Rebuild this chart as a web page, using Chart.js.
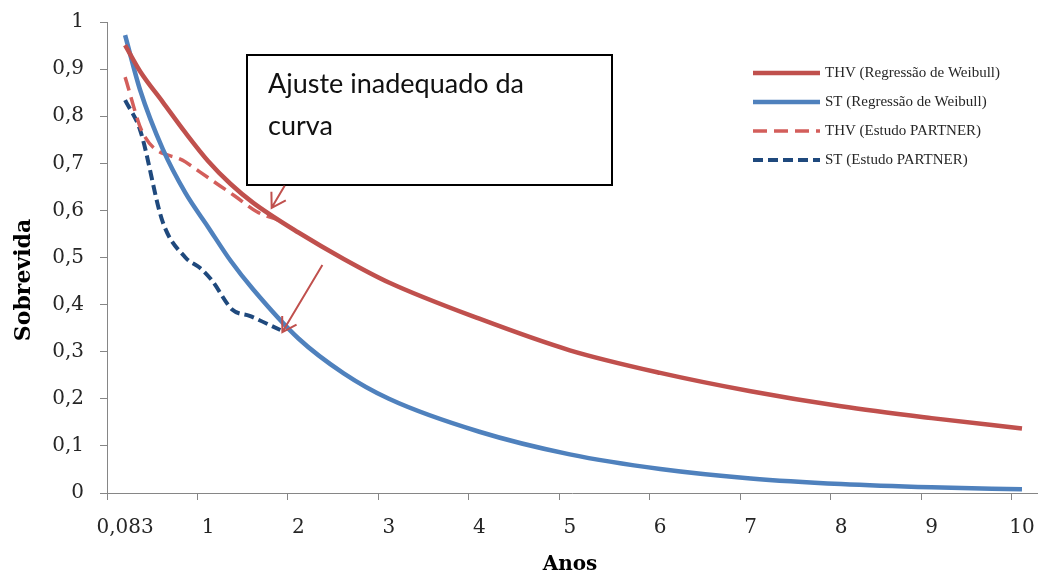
<!DOCTYPE html>
<html>
<head>
<meta charset="utf-8">
<script src="https://cdn.jsdelivr.net/npm/chart.js@4.4.1/dist/chart.umd.min.js"></script>
<style>
  html, body { margin: 0; padding: 0; background: #fff; }
  #wrap { width: 1038px; height: 574px; }
</style>
</head>
<body>
<div id="wrap"><canvas id="grafico" width="1038" height="574"></canvas></div>
<script>
// Curvas de regressão de Weibull (anos -> sobrevida)
const anosWeibull = [0.083, 0.25, 0.5, 0.75, 1, 1.25, 1.5, 2, 2.5, 3, 4, 5, 6, 7, 8, 9, 10];
const thvWeibull = [0.951, 0.895, 0.83, 0.765, 0.705, 0.656, 0.616, 0.553, 0.497, 0.447, 0.370, 0.303, 0.255, 0.216, 0.184, 0.159, 0.137];
const stWeibull = [0.972, 0.855, 0.73, 0.637, 0.565, 0.493, 0.432, 0.328, 0.254, 0.2, 0.13, 0.082, 0.051, 0.031, 0.019, 0.012, 0.008];

// Estudo PARTNER
const anosThvPartner = [0.083, 0.28, 0.75, 1.02, 1.3, 1.54, 1.77];
const thvPartner = [0.883, 0.764, 0.703, 0.667, 0.63, 0.597, 0.58];
const anosStPartner = [0.083, 0.25, 0.5, 0.75, 0.91, 1.04, 1.27, 1.46, 1.8];
const stPartner = [0.834, 0.77, 0.575, 0.50, 0.478, 0.452, 0.389, 0.376, 0.346];

const rotulosX = [0.083, 1, 2, 3, 4, 5, 6, 7, 8, 9, 10];
const nomesSeries = ['THV (Regressão de Weibull)', 'ST (Regressão de Weibull)', 'THV (Estudo PARTNER)', 'ST (Estudo PARTNER)'];
const textoNota = ['Ajuste inadequado da', 'curva'];

const cinza = '#868686';
const vermelho = '#C0504D';

function pontos(xs, ys) {
    return xs.map((x, i) => ({ x: x, y: ys[i] }));
}

function virgula(v) {
    return String(v).replace('.', ',');
}

// desenha legenda, nota, setas, títulos e marcas do eixo x
const extras = {
    id: 'extras',
    afterDatasetsDraw(chart) {
        const ctx = chart.ctx;
        const sx = chart.scales.x;
        const sy = chart.scales.y;
        ctx.save();

        // marcas do eixo x (deslocadas dos rótulos, como no original)
        ctx.strokeStyle = cinza;
        ctx.lineWidth = 1;
        ctx.beginPath();
        ctx.moveTo(sx.left + 0.5, sy.bottom);
        ctx.lineTo(sx.left + 0.5, sy.bottom + 7);
        rotulosX.slice(1).forEach(v => {
            const px = Math.round(sx.getPixelForValue(v)) - 11 + 0.5;
            ctx.moveTo(px, sy.bottom);
            ctx.lineTo(px, sy.bottom + 7);
        });
        ctx.stroke();

        // legenda
        chart.data.datasets.forEach((ds, i) => {
            const y = 73 + i * 29;
            ctx.strokeStyle = ds.borderColor;
            ctx.lineWidth = ds.borderWidth;
            ctx.setLineDash(ds.borderDash || []);
            ctx.beginPath();
            ctx.moveTo(753, y);
            ctx.lineTo(820, y);
            ctx.stroke();
            ctx.setLineDash([]);
            ctx.fillStyle = '#262626';
            ctx.font = '15px "Liberation Serif"';
            ctx.textBaseline = 'middle';
            ctx.textAlign = 'left';
            ctx.fillText(ds.label, 825, y);
        });

        // caixa da nota
        ctx.fillStyle = '#fff';
        ctx.fillRect(247, 55, 365, 130);
        ctx.strokeStyle = '#000';
        ctx.lineWidth = 2;
        ctx.strokeRect(247, 55, 365, 130);
        ctx.fillStyle = '#111';
        ctx.font = '27px Lato';
        ctx.textBaseline = 'alphabetic';
        ctx.fillText(textoNota[0], 268, 93);
        ctx.fillText(textoNota[1], 268, 135);

        // setas
        function seta(x0, y0, x1, y1) {
            const ang = Math.atan2(y1 - y0, x1 - x0);
            const l = 16;
            ctx.strokeStyle = vermelho;
            ctx.lineWidth = 2;
            ctx.beginPath();
            ctx.moveTo(x0, y0);
            ctx.lineTo(x1, y1);
            ctx.moveTo(x1 - l * Math.cos(ang - 0.55), y1 - l * Math.sin(ang - 0.55));
            ctx.lineTo(x1, y1);
            ctx.lineTo(x1 - l * Math.cos(ang + 0.55), y1 - l * Math.sin(ang + 0.55));
            ctx.stroke();
        }
        const fimThv = chart.getDatasetMeta(2).data[anosThvPartner.length - 1];
        const fimSt = chart.getDatasetMeta(3).data[anosStPartner.length - 1];
        seta(fimThv.x + 7, fimThv.y - 34, fimThv.x - 6, fimThv.y - 12);
        seta(fimSt.x + 42, fimSt.y - 65, fimSt.x + 2, fimSt.y + 2);

        // títulos dos eixos
        ctx.fillStyle = '#000';
        ctx.font = 'bold 20px "DejaVu Serif"';
        ctx.textAlign = 'center';
        ctx.textBaseline = 'middle';
        ctx.fillText('Anos', 570, 565);
        ctx.translate(24, 280);
        ctx.rotate(-Math.PI / 2);
        ctx.font = 'bold 22px "DejaVu Serif"';
        ctx.fillText('Sobrevida', 0, 0);

        ctx.restore();
    }
};

const ctx = document.getElementById('grafico').getContext('2d');
new Chart(ctx, {
    type: 'line',
    data: {
        datasets: [
            { label: nomesSeries[0], data: pontos(anosWeibull, thvWeibull), borderColor: vermelho, borderWidth: 4.5 },
            { label: nomesSeries[1], data: pontos(anosWeibull, stWeibull), borderColor: '#4F81BD', borderWidth: 4.5 },
            { label: nomesSeries[2], data: pontos(anosThvPartner, thvPartner), borderColor: '#D35E5B', borderWidth: 3.5, borderDash: [14, 7] },
            { label: nomesSeries[3], data: pontos(anosStPartner, stPartner), borderColor: '#1F497D', borderWidth: 4, borderDash: [10, 5] }
        ]
    },
    options: {
        responsive: false,
        animation: false,
        layout: { padding: { top: 22, right: 1, left: 0, bottom: 0 } },
        elements: {
            point: { radius: 0 },
            line: { cubicInterpolationMode: 'monotone', fill: false, borderCapStyle: 'butt' }
        },
        plugins: {
            legend: { display: false },
            tooltip: { enabled: false }
        },
        scales: {
            x: {
                type: 'linear',
                min: -0.117,
                max: 10.166,
                afterFit: s => { s.height = 81; s.paddingLeft = 0; s.paddingRight = 0; },
                afterBuildTicks: s => { s.ticks = rotulosX.map(v => ({ value: v })); },
                grid: { display: false },
                border: { display: true, color: cinza, width: 1 },
                ticks: {
                    autoSkip: false,
                    maxRotation: 0,
                    padding: 15,
                    color: '#262626',
                    font: { family: '"DejaVu Serif"', size: 20 },
                    callback: v => virgula(v)
                }
            },
            y: {
                min: 0,
                max: 1,
                afterFit: s => { s.width = 107; s.paddingTop = 0; s.paddingBottom = 0; },
                grid: { drawOnChartArea: false, drawTicks: true, tickLength: 7, color: cinza },
                border: { display: true, color: cinza, width: 1 },
                ticks: {
                    stepSize: 0.1,
                    padding: 16,
                    color: '#262626',
                    font: { family: '"DejaVu Serif"', size: 20 },
                    callback: v => virgula(Number(v.toFixed(1)))
                }
            }
        }
    },
    plugins: [extras]
});
</script>
</body>
</html>
